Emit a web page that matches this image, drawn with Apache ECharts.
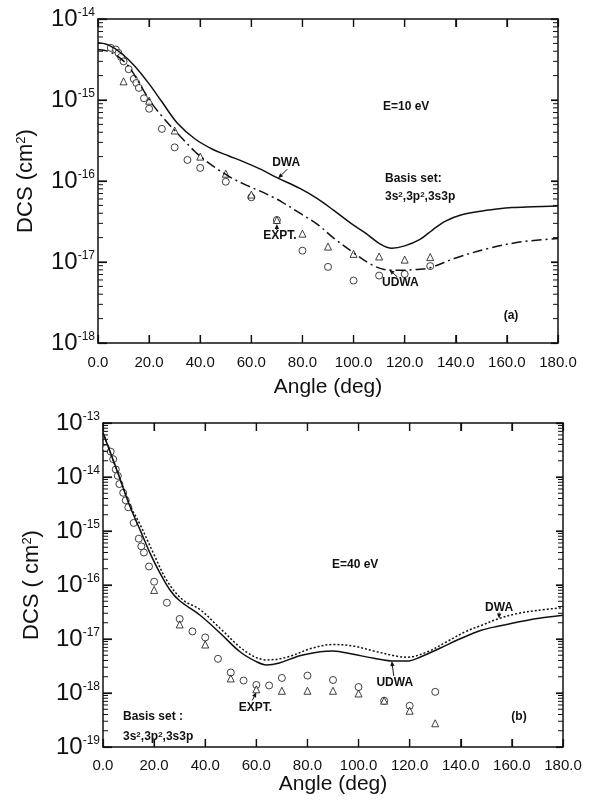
<!DOCTYPE html>
<html>
<head>
<meta charset="utf-8">
<script src="https://cdn.jsdelivr.net/npm/echarts@6/dist/echarts.min.js"></script>
<style>
html, body { margin: 0; padding: 0; background: #fff; }
#main { width: 592px; height: 802px; }
</style>
</head>
<body>
<div id="main"></div>
<script>
// ---- panel (a), E = 10 eV ----
var angA_dwa = [0, 4, 9, 14.5, 20, 25, 31, 38, 45, 51, 57.5, 64, 70, 79, 86, 92, 99, 105, 110, 115, 120, 126, 131, 136, 142, 149, 156, 162, 170, 180];
var dcsA_dwa = [5.1e-15, 4.8e-15, 3.8e-15, 2.6e-15, 1.58e-15, 9.5e-16, 5.2e-16, 3.3e-16, 2.45e-16, 2.05e-16, 1.7e-16, 1.38e-16, 1.1e-16, 8.1e-17, 6.0e-17, 4.4e-17, 3.0e-17, 2.24e-17, 1.7e-17, 1.48e-17, 1.58e-17, 1.9e-17, 2.5e-17, 3.2e-17, 3.8e-17, 4.2e-17, 4.5e-17, 4.7e-17, 4.8e-17, 4.9e-17];
var angA_udwa = [0, 4, 8, 12, 17, 21, 26, 31, 38, 43, 51, 58, 66, 72, 79, 86, 92, 100, 107, 112, 118, 125, 130, 140, 153, 166, 180];
var dcsA_udwa = [4.2e-15, 4.0e-15, 3.4e-15, 2.6e-15, 1.45e-15, 9.1e-16, 5.8e-16, 3.9e-16, 2.3e-16, 1.7e-16, 1.15e-16, 8.9e-17, 6.9e-17, 5.5e-17, 4.0e-17, 2.9e-17, 2.0e-17, 1.3e-17, 9.3e-18, 8.1e-18, 7.9e-18, 8.1e-18, 8.5e-18, 1.12e-17, 1.48e-17, 1.78e-17, 1.95e-17];
var angA_circ = [5, 7, 8, 9, 10, 12, 14, 15, 16, 18, 20, 25, 30, 35, 40, 50, 60, 70, 80, 90, 100, 110, 120, 130];
var dcsA_circ = [4.4e-15, 4.2e-15, 3.8e-15, 3.4e-15, 3.0e-15, 2.4e-15, 1.82e-15, 1.62e-15, 1.41e-15, 1.05e-15, 7.8e-16, 4.4e-16, 2.6e-16, 1.82e-16, 1.45e-16, 9.8e-17, 6.3e-17, 3.3e-17, 1.38e-17, 8.7e-18, 5.9e-18, 6.8e-18, 7.1e-18, 8.9e-18];
var angA_tri = [10, 20, 30, 40, 50, 60, 70, 80, 90, 100, 110, 120, 130];
var dcsA_tri = [1.7e-15, 9.8e-16, 4.2e-16, 2.0e-16, 1.23e-16, 6.8e-17, 3.3e-17, 2.24e-17, 1.55e-17, 1.26e-17, 1.17e-17, 1.07e-17, 1.15e-17];

// ---- panel (b), E = 40 eV ----
var angB_dwa = [0, 5.4, 10.6, 14.5, 19.7, 24.9, 31, 38, 45.8, 56, 64, 72, 82, 90, 98, 106, 114, 119, 127, 134.5, 142, 148, 155, 162, 170, 180];
var dcsB_dwa = [6.6e-14, 1.35e-14, 3.0e-15, 1.32e-15, 3.9e-16, 1.23e-16, 5.4e-17, 3.5e-17, 1.58e-17, 5.8e-18, 4.1e-18, 4.6e-18, 6.8e-18, 7.9e-18, 7.4e-18, 6.0e-18, 4.9e-18, 4.6e-18, 5.8e-18, 8.9e-18, 1.38e-17, 1.78e-17, 2.4e-17, 2.95e-17, 3.4e-17, 3.8e-17];
var angB_udwa = [0, 5.4, 10.6, 14.5, 18.4, 22.3, 26.2, 30, 38, 45.8, 53.6, 60, 64, 69, 77, 85, 90, 98, 106, 114, 119, 124, 132, 140, 148, 155, 162, 170, 180];
var dcsB_udwa = [6.6e-14, 1.35e-14, 2.8e-15, 1.05e-15, 3.9e-16, 1.66e-16, 8.1e-17, 5.1e-17, 2.75e-17, 1.29e-17, 5.8e-18, 3.8e-18, 3.3e-18, 3.6e-18, 4.9e-18, 5.8e-18, 6.0e-18, 5.2e-18, 4.4e-18, 3.9e-18, 3.9e-18, 4.6e-18, 6.8e-18, 1.02e-17, 1.45e-17, 1.74e-17, 2.05e-17, 2.4e-17, 2.75e-17];
var angB_circ = [1.2, 3, 4, 5, 5.8, 6.4, 7.9, 8.9, 9.9, 12, 14, 15, 16, 18, 20, 25, 30, 35, 40, 45, 50, 55, 60, 65, 70, 80, 90, 100, 110, 120, 130];
var dcsB_circ = [3.4e-14, 2.95e-14, 2.14e-14, 1.38e-14, 1.05e-14, 7.4e-15, 5.1e-15, 3.7e-15, 2.75e-15, 1.41e-15, 7.2e-16, 5.2e-16, 4.0e-16, 2.2e-16, 1.15e-16, 4.7e-17, 2.35e-17, 1.38e-17, 1.07e-17, 4.3e-18, 2.4e-18, 1.7e-18, 1.41e-18, 1.38e-18, 1.9e-18, 2.1e-18, 1.74e-18, 1.29e-18, 7.2e-19, 5.8e-19, 1.05e-18];
var angB_tri = [20, 30, 40, 50, 60, 70, 80, 90, 100, 110, 120, 130];
var dcsB_tri = [8.1e-17, 1.86e-17, 7.9e-18, 1.86e-18, 1.17e-18, 1.1e-18, 1.1e-18, 1.1e-18, 9.8e-19, 7.2e-19, 4.7e-19, 2.75e-19];

var angTicks = [0, 20, 40, 60, 80, 100, 120, 140, 160, 180];
var decadesA = [-18, -17, -16, -15, -14];
var decadesB = [-19, -18, -17, -16, -15, -14, -13];

var FONT = 'Liberation Sans, Arial, sans-serif';
var INK = '#111';

function pairs(xs, ys) {
  return xs.map(function (x, i) { return [x, ys[i]]; });
}

var chartDom = document.getElementById('main');
var myChart = echarts.init(chartDom);

function xAxes(grid, gap, margin) {
  return [
    {
      gridIndex: grid, type: 'value', min: 0, max: 180, interval: 20, position: 'bottom',
      axisLine: { show: true, onZero: false, lineStyle: { color: INK, width: 1.5 } },
      axisTick: { show: true, inside: true, length: 8, lineStyle: { color: INK, width: 1.2 } },
      axisLabel: { margin: margin, color: INK, fontSize: 15, fontFamily: FONT, formatter: function (v) { return v.toFixed(1); } },
      splitLine: { show: false },
      name: 'Angle (deg)', nameLocation: 'middle', nameGap: gap,
      nameTextStyle: { color: INK, fontSize: 21, fontFamily: FONT }
    },
    {
      gridIndex: grid, type: 'value', min: 0, max: 180, interval: 20, position: 'top',
      axisLine: { show: true, onZero: false, lineStyle: { color: INK, width: 1.5 } },
      axisTick: { show: true, inside: true, length: 8, lineStyle: { color: INK, width: 1.2 } },
      axisLabel: { show: false }, splitLine: { show: false }
    }
  ];
}

function yAxes(grid, lo, hi, name, gap) {
  return [
    {
      gridIndex: grid, type: 'log', min: lo, max: hi, position: 'left',
      axisLine: { show: true, onZero: false, lineStyle: { color: INK, width: 1.5 } },
      axisTick: { show: true, inside: true, length: 9, lineStyle: { color: INK, width: 1.2 } },
      axisLabel: {
        margin: 3, color: INK, fontFamily: FONT,
        formatter: function (v) { return '{b|10}{e|' + Math.round(Math.log10(v)) + '}'; },
        rich: {
          b: { fontSize: 24, fontFamily: FONT, color: INK },
          e: { fontSize: 12, fontFamily: FONT, color: INK, verticalAlign: 'top' }
        }
      },
      splitLine: { show: false },
      name: name, nameLocation: 'middle', nameGap: gap,
      nameTextStyle: {
        color: INK, fontFamily: FONT,
        rich: {
          a: { fontSize: 22, fontFamily: FONT, color: INK },
          s: { fontSize: 13, fontFamily: FONT, color: INK, verticalAlign: 'top' }
        }
      }
    },
    {
      gridIndex: grid, type: 'log', min: lo, max: hi, position: 'right',
      axisLine: { show: true, onZero: false, lineStyle: { color: INK, width: 1.5 } },
      axisTick: { show: true, inside: true, length: 7, lineStyle: { color: INK, width: 1.2 } },
      axisLabel: { show: false }, splitLine: { show: false }
    }
  ];
}

function curve(xi, yi, data, dash) {
  return {
    type: 'line', xAxisIndex: xi, yAxisIndex: yi, data: data, smooth: 0.35,
    showSymbol: false,
    lineStyle: { color: INK, width: 1.5, type: dash }
  };
}
function points(xi, yi, data, sym, size) {
  return {
    type: 'scatter', xAxisIndex: xi, yAxisIndex: yi, data: data, symbol: sym, symbolSize: size,
    itemStyle: { color: '#fff', borderColor: INK, borderWidth: 1 }
  };
}

var option = {
  animation: false,
  grid: [
    { left: 98, top: 19, width: 460, height: 324 },
    { left: 103, top: 423, width: 460, height: 324 }
  ],
  xAxis: xAxes(0, 34, 12).concat(xAxes(1, 23, 11)),
  yAxis: yAxes(0, 1e-18, 1e-14, '{a|DCS (cm}{s|2}{a|)}', 61).concat(yAxes(1, 1e-19, 1e-13, '{a|DCS ( cm}{s|2}{a|)}', 60)),
  series: [
    curve(0, 0, pairs(angA_dwa, dcsA_dwa), 'solid'),
    curve(0, 0, pairs(angA_udwa, dcsA_udwa), [10, 4, 2, 4]),
    points(0, 0, pairs(angA_circ, dcsA_circ), 'circle', 7),
    points(0, 0, pairs(angA_tri, dcsA_tri), 'triangle', 7),
    curve(2, 2, pairs(angB_dwa, dcsB_dwa), [2, 2]),
    curve(2, 2, pairs(angB_udwa, dcsB_udwa), 'solid'),
    points(2, 2, pairs(angB_circ, dcsB_circ), 'circle', 7),
    points(2, 2, pairs(angB_tri, dcsB_tri), 'triangle', 7)
  ]
};

option && myChart.setOption(option);

// ---- annotations and frame ticks ----
function px(grid, pt) {
  return myChart.convertToPixel({ xAxisIndex: grid * 2, yAxisIndex: grid * 2 }, pt);
}
function seg(x1, y1, x2, y2, w) {
  return { type: 'line', silent: true, z: 100, shape: { x1: x1, y1: y1, x2: x2, y2: y2 }, style: { stroke: INK, lineWidth: w || 1 } };
}
function frameTicks(grid, decades, lo, hi) {
  var out = [];
  decades.forEach(function (d) {
    for (var k = 1; k <= 9; k++) {
      var v = k * Math.pow(10, d);
      if (v < lo * 0.999 || v > hi * 1.001) continue;
      var l = px(grid, [0, v]), r = px(grid, [180, v]);
      var len = k === 1 ? 9 : 5;
      out.push(seg(l[0], l[1], l[0] + len, l[1], k === 1 ? 1.2 : 1));
      out.push(seg(r[0] - len + (k === 1 ? 2 : 0), r[1], r[0], r[1], k === 1 ? 1.2 : 1));
    }
  });
  angTicks.forEach(function (a) {
    var b = px(grid, [a, lo]), t = px(grid, [a, hi]);
    out.push(seg(b[0], b[1], b[0], b[1] - 8, 1.2));
    out.push(seg(t[0], t[1], t[0], t[1] + 8, 1.2));
  });
  return out;
}
function label(x, y, txt, align) {
  return {
    type: 'text', x: x, y: y, silent: true,
    style: { text: txt, fill: INK, font: 'bold 12px ' + FONT, align: align || 'left', verticalAlign: 'middle' }
  };
}
function basis(x, y) {
  return {
    type: 'text', x: x, y: y, silent: true,
    style: {
      text: '{a|3s}{s|2}{a|,3p}{s|2}{a|,3s3p}', align: 'left', verticalAlign: 'middle',
      rich: {
        a: { font: 'bold 12px ' + FONT, fill: INK },
        s: { font: 'bold 8px ' + FONT, fill: INK, verticalAlign: 'top' }
      }
    }
  };
}
function arrow(tail, tip) {
  var dx = tip[0] - tail[0], dy = tip[1] - tail[1];
  var len = Math.sqrt(dx * dx + dy * dy);
  var ux = dx / len, uy = dy / len, h = 5, w = 2.2;
  var bx = tip[0] - ux * h, by = tip[1] - uy * h;
  return [
    seg(tail[0], tail[1], bx, by),
    { type: 'polygon', silent: true, shape: { points: [tip, [bx - uy * w, by + ux * w], [bx + uy * w, by - ux * w]] }, style: { fill: INK } }
  ];
}

var tipA_dwa = px(0, [70.5, 1.08e-16]);
var tipA_udwa = px(0, [114, 8.0e-18]);
var tipA_expt = px(0, [70, 3.3e-17]);
var tipB_dwa = px(1, [155, 2.4e-17]);
var tipB_udwa = px(1, [113, 3.9e-18]);
var tipB_expt = px(1, [60, 1.17e-18]);

var g = [
  label(383, 107, 'E=10 eV'),
  label(385, 179, 'Basis set:'),
  basis(385, 197),
  label(tipA_dwa[0] + 8, tipA_dwa[1] - 16, 'DWA', 'center'),
  label(tipA_expt[0] + 3, tipA_expt[1] + 16, 'EXPT.', 'center'),
  label(tipA_udwa[0] + 11, tipA_udwa[1] + 13, 'UDWA', 'center'),
  label(511, 316, '(a)', 'center'),
  label(332, 565, 'E=40 eV'),
  label(tipB_dwa[0], tipB_dwa[1] - 11, 'DWA', 'center'),
  label(tipB_udwa[0] + 3, tipB_udwa[1] + 22, 'UDWA', 'center'),
  label(tipB_expt[0] - 1, tipB_expt[1] + 18, 'EXPT.', 'center'),
  label(123, 717, 'Basis set :'),
  basis(123, 737),
  label(519, 717, '(b)', 'center')
];
g = g.concat(arrow([tipA_dwa[0] + 9, tipA_dwa[1] - 9], tipA_dwa));
g = g.concat(arrow([tipA_expt[0], tipA_expt[1] + 10], [tipA_expt[0], tipA_expt[1] + 4]));
g = g.concat(arrow([tipA_udwa[0] + 8, tipA_udwa[1] + 7], tipA_udwa));
g = g.concat(arrow([tipB_dwa[0], tipB_dwa[1] - 6], tipB_dwa));
g = g.concat(arrow([tipB_udwa[0] + 2, tipB_udwa[1] + 15], tipB_udwa));
g = g.concat(arrow([tipB_expt[0] - 4, tipB_expt[1] + 11], [tipB_expt[0], tipB_expt[1] + 3]));
g = g.concat(frameTicks(0, decadesA, 1e-18, 1e-14)).concat(frameTicks(1, decadesB, 1e-19, 1e-13));

myChart.setOption({ graphic: g });
</script>
</body>
</html>
